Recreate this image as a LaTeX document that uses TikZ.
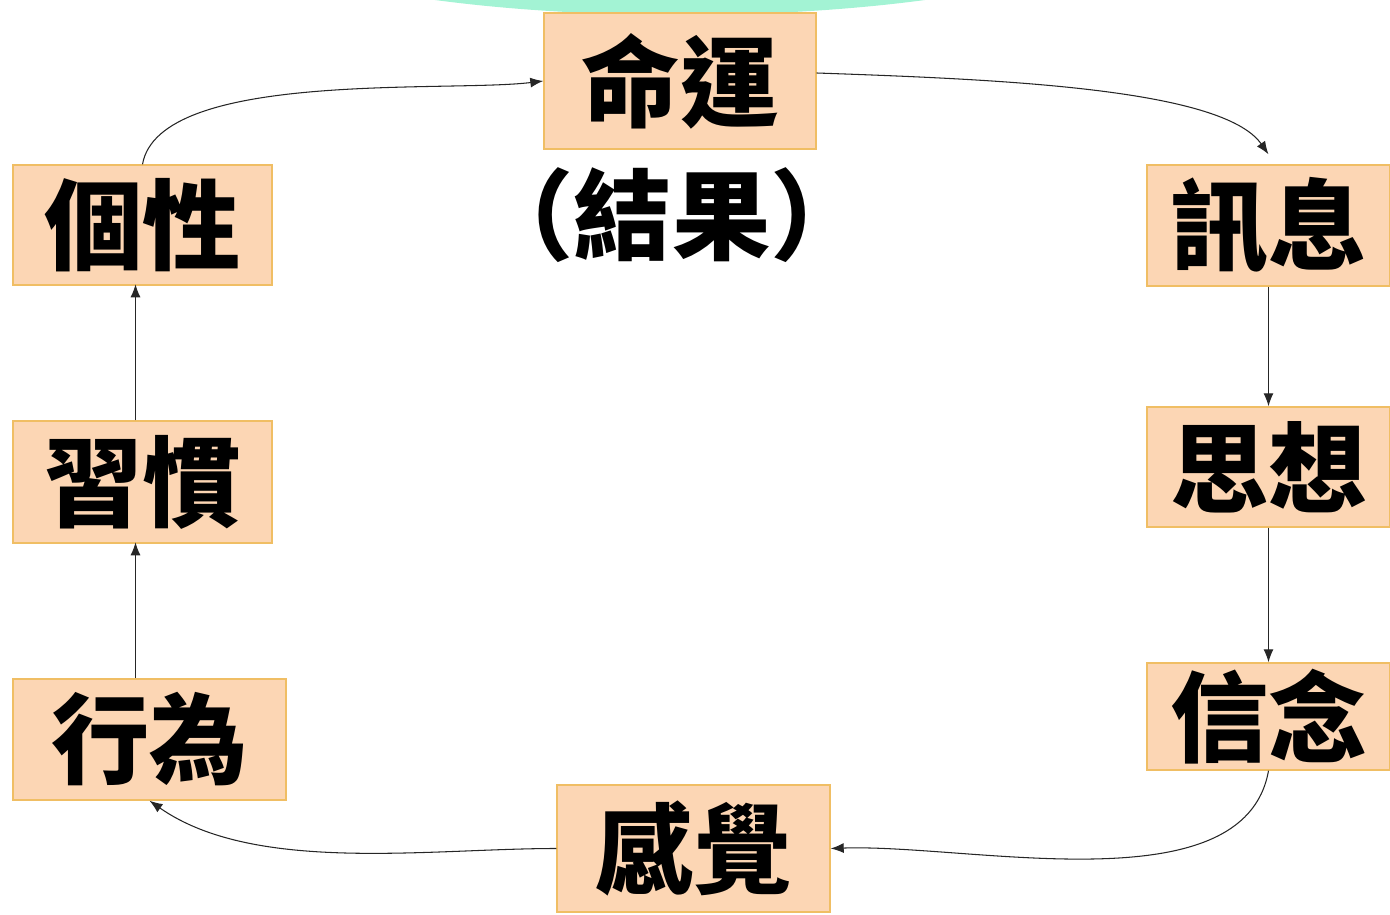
\documentclass[tikz,border=0pt]{standalone}
\usepackage{fontspec}
\usepackage{tikz}
\usetikzlibrary{arrows.meta}
\newfontfamily\cjk{Noto Sans CJK TC}
\definecolor{boxfill}{RGB}{252,214,180}
\definecolor{boxline}{RGB}{240,190,100}
\definecolor{mint}{RGB}{163,243,212}

\begin{document}
\begin{tikzpicture}[
    x=0.02cm, y=-0.02cm,
    >={Latex[length=2.6mm,width=2mm]},
    box/.style={draw=boxline, fill=boxfill, line width=0.8pt, inner sep=0pt,
      font=\cjk\bfseries\fontsize{56}{60}\selectfont},
    flow/.style={->, line width=0.6pt, draw=black!85}
  ]
    \useasboundingbox (0,0) rectangle (1390,915);
    \clip (0,0) rectangle (1390,915);

    % Backdrop at the top edge
    \fill[mint] (680,-85) ellipse [x radius=465, y radius=100];

    % Top
    \node[box, minimum width=272*0.02cm, minimum height=136*0.02cm] (fate) at (680,81) {命運};
    \node[font=\cjk\bfseries\fontsize{56}{60}\selectfont] (result) at (672,215) {（結果）};

    % Left column
    \node[box, minimum width=259*0.02cm, minimum height=120*0.02cm] (trait) at (142.5,225) {個性};
    \node[box, minimum width=259*0.02cm, minimum height=122*0.02cm] (habit) at (142.5,482) {習慣};
    \node[box, minimum width=273*0.02cm, minimum height=121*0.02cm] (act) at (149.5,739.5) {行為};

    % Bottom
    \node[box, minimum width=273*0.02cm, minimum height=127*0.02cm] (feel) at (693.5,848.5) {感覺};

    % Right column
    \node[box, minimum width=243*0.02cm, minimum height=121*0.02cm] (info) at (1268.5,225.5) {訊息};
    \node[box, minimum width=243*0.02cm, minimum height=120*0.02cm] (thought) at (1268.5,467) {思想};
    \node[box, minimum width=243*0.02cm, minimum height=107*0.02cm] (belief) at (1268.5,716.5) {信念};

    % Connections
    \draw[flow] (fate.east) ++(0,-8) to[out=-2, in=125, out looseness=1, in looseness=0.45] ([yshift=0.2cm]info.north);
    \draw[flow] (info) -- (thought);
    \draw[flow] (thought) -- (belief);
    \draw[flow] (belief.south) to[out=-100, in=2, looseness=0.8] (feel.east);
    \draw[flow] (feel.west) to[out=180, in=-35, looseness=0.8] (act.south);
    \draw[flow] (act.north -| habit.south) ++(-7,0) -- ++(0,-136);
    \draw[flow] (habit.north) ++(-7,0) -- ++(0,-136);
    \draw[flow] (trait.north) to[out=80, in=187, looseness=0.6] (fate.west);
  \end{tikzpicture}
\end{document}
